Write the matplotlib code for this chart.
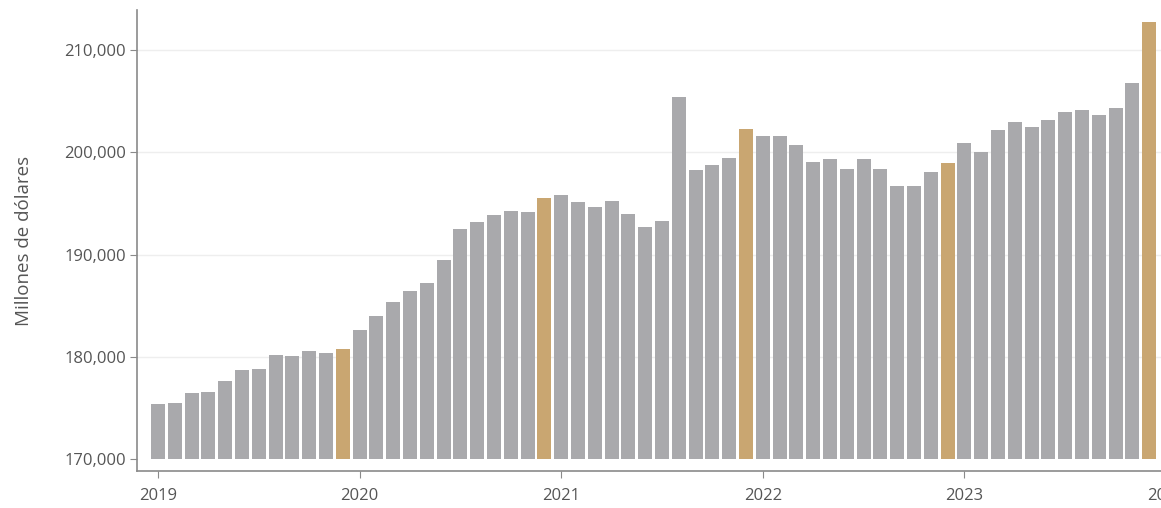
import matplotlib.pyplot as plt
from matplotlib.ticker import FuncFormatter

plt.rcParams['font.family'] = ['Open Sans', 'DejaVu Sans']

# Monthly values, Jan 2019 - Dec 2023 (millones de dólares)
values = [
    175400, 175500, 176450, 176580, 177680, 178700, 178860, 180200, 180070, 180590, 180420, 180750,
    182600, 184050, 185350, 186480, 187200, 189480, 192480, 193230, 193850, 194240, 194140, 195570,
    195860, 195180, 194660, 195220, 194010, 192740, 193290, 205440, 198280, 198800, 199420, 202290,
    201560, 201600, 200690, 199060, 199380, 198400, 199350, 198400, 196740, 196740, 198110, 198960,
    200950, 200070, 202190, 203000, 202510, 203170, 203950, 204140, 203620, 204300, 206750, 212720,
]
years = ['2019', '2020', '2021', '2022', '2023', '2024']
base = 170000

gray = '#a9a9ac'
gold = '#c9a671'
colors = [gold if i % 12 == 11 else gray for i in range(len(values))]

fig = plt.figure(figsize=(11.61, 5.08), dpi=100)
ax = fig.add_axes([137 / 1161, 37 / 508, (1180 - 137) / 1161, 461 / 508])

x = list(range(len(values)))
ax.bar(x, [v - base for v in values], bottom=base, width=0.83, color=colors, zorder=2)

ax.set_xlim(-1.25, (1180 - 158) / 16.8)
ax.set_ylim(168860, 213900)

ax.set_yticks([170000, 180000, 190000, 200000, 210000])
ax.yaxis.set_major_formatter(FuncFormatter(lambda v, p: f'{int(v):,}'))
ax.set_xticks([12 * i for i in range(len(years))])
ax.set_xticklabels(years)

for y in [180000, 190000, 200000, 210000]:
    ax.axhline(y, color='#eeeeee', lw=1, zorder=1)

for s in ['top', 'right']:
    ax.spines[s].set_visible(False)
for s in ['left', 'bottom']:
    ax.spines[s].set_color('#8a8a8a')
    ax.spines[s].set_linewidth(1.2)

ax.tick_params(axis='both', colors='#8a8a8a', labelcolor='#555555', labelsize=12, length=5)
ax.tick_params(axis='x', pad=7)
ax.tick_params(axis='y', pad=3)
ax.set_ylabel('Millones de dólares', fontsize=13.5, color='#555555', labelpad=22)

fig.savefig('out.png', dpi=100)
